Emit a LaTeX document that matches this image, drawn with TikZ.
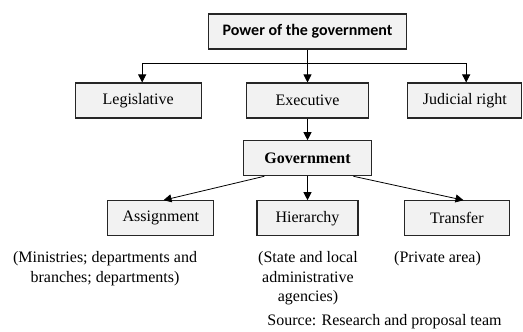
\documentclass[tikz,border=0pt]{standalone}
\usepackage{fontspec}
\setmainfont{Liberation Serif}
\newfontfamily\calibrifont{Carlito}
\usetikzlibrary{positioning}
\usetikzlibrary{arrows.meta}

\begin{document}
\begin{tikzpicture}[x=0.75pt,y=-0.75pt,>={Triangle[length=6pt,width=6pt]},
	semithick,font=\fontsize{12}{14.5}\selectfont,
	box node/.style={rectangle,draw=black!85,line width=0.8pt,fill=black!5,
		minimum height=26.25pt,inner sep=2pt},
	note node/.style={align=center,inner sep=0pt}]
	\useasboundingbox (0,0) rectangle (523,331);
	
	\node[box node,minimum width=149pt,font=\calibrifont\bfseries\fontsize{12}{14}\selectfont] (power) at (307.5,31.5) {Power of the government};
	\node[box node,minimum width=92pt] (exec) [below of=power,node distance=51.75pt] {Executive};
	\node[box node,minimum width=94.5pt] (legis) [left of=exec,node distance=127pt] {Legislative};
	\node[box node,minimum width=85.5pt] (judic) [right of=exec,node distance=118pt] {Judicial right};
	\node[box node,minimum width=96pt,font=\bfseries\fontsize{12}{14}\selectfont] (gov) [below of=exec,node distance=43.3pt] {Government};
	\node[box node,minimum width=75.75pt] (hier) [below of=gov,node distance=45pt] {Hierarchy};
	\node[box node,minimum width=79.5pt] (assign) [left of=hier,node distance=110pt] {Assignment};
	\node[box node,minimum width=78.75pt] (transf) [right of=hier,node distance=112pt] {Transfer};
	
	\node[note node] (assignnote) at (105,268.5) {(Ministries; departments and\\branches; departments)};
	\node[note node] (hiernote) at (308,278.5) {(State and local\\administrative\\agencies)};
	\node[note node] (transfnote) at (437.5,259) {(Private area)};
	\node[note node] (source) at (384.5,322) {Source: Research and proposal team};
	
	% branches of power
	\coordinate[below=10.5pt of power.south] (split);
	\draw[->] (power) -- (exec);
	\draw[->] (split) -| ([xshift=3pt]legis.north);
	\draw[->] (split) -| ([xshift=1pt]judic.north);
	
	% government
	\draw[->] (exec) -- (gov);
	\draw[->] ([xshift=16pt]gov.south west) -- ([xshift=2pt]assign.north);
	\draw[->] (gov) -- (hier);
	\draw[->] ([xshift=-14pt]gov.south east) -- ([xshift=5pt]transf.north);
\end{tikzpicture}
\end{document}
